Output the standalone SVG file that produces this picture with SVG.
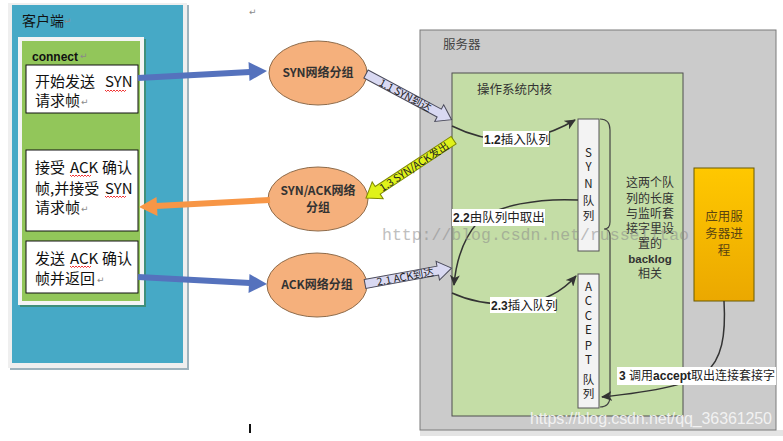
<svg xmlns="http://www.w3.org/2000/svg" width="783" height="441" viewBox="0 0 783 441">
<defs>
<style>
.cjk{font-family:"Noto Sans CJK SC","Liberation Sans",sans-serif}
.ctext{font-size:15px;fill:#111}
.mark{font-family:"DejaVu Sans",sans-serif;font-size:9px;fill:#8a8a8a}
.oval{fill:#F5B07C;stroke:#8E6B4A;stroke-width:1}
.otext{font-size:12px;font-weight:bold;fill:#333;text-anchor:middle}
.thin{fill:none;stroke:#333;stroke-width:1.5}
.lbl{font-size:12.5px;fill:#222}
.bold{font-family:"Liberation Sans",sans-serif;font-weight:bold}
.bg{fill:#fff}
.queue{fill:#F3F3F3;stroke:#555;stroke-width:1}
.qtext{font-size:11.5px;fill:#222;text-anchor:middle}
.fat{fill:#D9D9F2;stroke:#4a4a5a;stroke-width:1}
.fatY{fill:#DFF21A;stroke:#7F8A00;stroke-width:1}
.fatText{font-size:10.5px;fill:#222}
.wave{fill:none;stroke:#e00;stroke-width:0.8}
</style>
<marker id="ah" markerUnits="userSpaceOnUse" markerWidth="12" markerHeight="10" refX="10" refY="5" orient="auto"><path d="M0,0 L11,5 L0,10 L3,5 Z" fill="#333"/></marker>
<path id="zig" d="M0,0 l1.5,1.5 l1.5,-1.5 l1.5,1.5 l1.5,-1.5 l1.5,1.5 l1.5,-1.5 l1.5,1.5 l1.5,-1.5 l1.5,1.5 l1.5,-1.5 l1.5,1.5 l1.5,-1.5 l1.5,1.5 l1.5,-1.5"/>
<linearGradient id="gold" x1="0" y1="0" x2="0" y2="1"><stop offset="0" stop-color="#FFC800"/><stop offset="1" stop-color="#EBA800"/></linearGradient>
</defs>
<rect width="783" height="441" fill="#fff"/>

<!-- client -->
<g id="client">
<rect x="10" y="5" width="179" height="365" fill="#9fb3bd"/>
<rect x="8" y="3" width="179" height="365" fill="#EFEFEF"/>
<rect x="12" y="5" width="171" height="358" fill="#46A9C6"/>
<text class="cjk" x="22" y="26" font-size="14" fill="#111">客户端</text>
<text class="mark" x="64" y="24">↵</text>
<rect x="20" y="39" width="126" height="268" fill="#3f8f7a"/>
<rect x="18" y="37" width="126" height="268" fill="#F4F4F4"/>
<rect x="22" y="41" width="118" height="260" fill="#92C65A"/>
<text class="bold" x="32" y="61" font-size="12" fill="#111">connect</text>
<text class="mark" x="80" y="59">↵</text>
</g>
<g id="box1">
<rect x="26" y="65" width="112" height="48" fill="#fff" stroke="#111" stroke-width="1"/>
<text class="cjk ctext" x="35" y="87">开始发送<tspan x="105">SYN</tspan></text>
<text class="cjk ctext" x="35" y="106">请求帧</text>
<text class="mark" x="81" y="105">↵</text>
<use href="#zig" class="wave" transform="translate(105,90)"/>
</g>
<g id="box2">
<rect x="26" y="150" width="112" height="81" fill="#fff" stroke="#111" stroke-width="1"/>
<text class="cjk ctext" x="35" y="173">接受<tspan x="70">ACK</tspan><tspan x="102">确认</tspan></text>
<text class="cjk ctext" x="35" y="194">帧,并接受<tspan x="105">SYN</tspan></text>
<text class="cjk ctext" x="35" y="213">请求帧</text>
<text class="mark" x="81" y="212">↵</text>
<use href="#zig" class="wave" transform="translate(70,175)"/>
<use href="#zig" class="wave" transform="translate(105,196)"/>
</g>
<g id="box3">
<rect x="26" y="241" width="112" height="52" fill="#fff" stroke="#111" stroke-width="1"/>
<text class="cjk ctext" x="35" y="264">发送<tspan x="70">ACK</tspan><tspan x="102">确认</tspan></text>
<text class="cjk ctext" x="35" y="284">帧并返回</text>
<text class="mark" x="97" y="283">↵</text>
<use href="#zig" class="wave" transform="translate(70,266)"/>
</g>
<text class="mark" x="249" y="15">↵</text>
<rect x="249" y="424" width="2" height="9" fill="#111"/>

<!-- server -->
<g id="server">
<rect x="420" y="430" width="363" height="6" fill="#E4E4E4"/>
<rect x="420" y="30" width="356" height="400" fill="#CBCBCB" stroke="#7a7a7a"/>
<text class="cjk" x="443" y="49" font-size="12.5" fill="#444">服务器</text>
</g>
<g id="kernel">
<rect x="452" y="73" width="231" height="343" fill="#C4DDA6" stroke="#4f4f4f"/>
<text class="cjk" x="477" y="94" font-size="12.5" fill="#333">操作系统内核</text>
</g>
<g id="synq">
<rect class="queue" x="578" y="119" width="21" height="132"/>
<g class="cjk qtext"><text x="588.5" y="157">S</text><text x="588.5" y="171">Y</text><text x="588.5" y="188">N</text><text x="588.5" y="205">队</text><text x="588.5" y="220">列</text></g>
</g>
<g id="acceptq">
<rect class="queue" x="578" y="274" width="21" height="134"/>
<g class="cjk qtext"><text x="588.5" y="291">A</text><text x="588.5" y="305">C</text><text x="588.5" y="320">C</text><text x="588.5" y="334">E</text><text x="588.5" y="350">P</text><text x="588.5" y="364">T</text><text x="588.5" y="384">队</text><text x="588.5" y="398">列</text></g>
</g>
<g id="note">
<path d="M600,119 Q610,119 610,130 L610,222 Q610,229 604,229 Q610,229 610,236 L610,396 Q610,407 600,407" fill="none" stroke="#444" stroke-width="1.2"/>
<g class="cjk" font-size="12" fill="#333" text-anchor="middle">
<text x="650" y="187">这两个队</text>
<text x="650" y="203">列的长度</text>
<text x="650" y="218">与监听套</text>
<text x="650" y="233">接字里设</text>
<text x="650" y="248">置的</text>
<text x="650" y="263" class="bold" font-size="11.5">backlog</text>
<text x="650" y="278">相关</text>
</g>
</g>
<g id="app">
<rect x="694" y="168" width="60" height="133" fill="url(#gold)" stroke="#6b5a00"/>
<g class="cjk" font-size="12.5" fill="#5a4510" text-anchor="middle">
<text x="724" y="221">应用服</text><text x="724" y="238">务器进</text><text x="724" y="255">程</text>
</g>
</g>

<!-- ovals -->
<g id="oval1"><ellipse class="oval" cx="318" cy="73" rx="49" ry="32"/><text class="cjk otext" x="318" y="77">SYN网络分组</text></g>
<g id="oval2"><ellipse class="oval" cx="318" cy="199" rx="50" ry="32"/><text class="cjk otext" x="318" y="195">SYN/ACK网络</text><text class="cjk otext" x="318" y="212">分组</text></g>
<g id="oval3"><ellipse class="oval" cx="317" cy="285" rx="50" ry="32"/><text class="cjk otext" x="317" y="289">ACK网络分组</text></g>

<!-- connectors -->
<g id="connectors">
<line x1="138" y1="78" x2="250" y2="72" stroke="#5572BD" stroke-width="6"/>
<polygon points="267,71 249.5,81 248.5,62" fill="#5572BD"/>
<line x1="270" y1="200" x2="156" y2="206" stroke="#F79646" stroke-width="6"/>
<polygon points="139,207 157.5,216 156.5,197" fill="#F79646"/>
<line x1="138" y1="277" x2="250" y2="283" stroke="#5572BD" stroke-width="6"/>
<polygon points="267,284 248.5,293 249.5,274" fill="#5572BD"/>

<g transform="translate(366,74) rotate(28.1)"><path class="fat" d="M0,-4.5 H83 V-9.5 L97,0 L83,9.5 V4.5 H0 Z"/><text class="cjk fatText" x="16" y="4">1.1 SYN到达</text></g>
<g transform="translate(366,198) rotate(-33.4)"><path class="fatY" d="M0,0 L14,-10 V-4.5 H105 V4.5 H14 V10 Z"/><text class="cjk fatText" x="17" y="4">1.3 SYN/ACK发出</text></g>
<g transform="translate(365,284) rotate(-10.4)"><path class="fat" d="M0,-4.5 H74 V-9.5 L88,0 L74,9.5 V4.5 H0 Z"/><text class="cjk fatText" x="12" y="4">2.1 ACK到达</text></g>

<path class="thin" d="M452,126 Q490,145 530,138 Q555,132 575,120" marker-end="url(#ah)"/>
<path class="thin" d="M578,200 C540,198 495,205 478,222 C462,240 456,262 454,285" marker-end="url(#ah)"/>
<path class="thin" d="M452,293 Q480,306 520,304 Q555,300 576,276" marker-end="url(#ah)"/>
<path class="thin" d="M724,301 C726,335 722,360 705,373 C690,385 650,392 602,397" marker-end="url(#ah)"/>

<rect class="bg" x="483" y="131" width="66" height="16"/>
<text class="cjk lbl" x="484" y="144"><tspan class="bold" font-size="12">1.2</tspan>插入队列</text>
<rect class="bg" x="452" y="209" width="93" height="17"/>
<text class="cjk lbl" x="453" y="222"><tspan class="bold" font-size="12">2.2</tspan>由队列中取出</text>
<rect class="bg" x="490" y="297" width="66" height="16"/>
<text class="cjk lbl" x="491" y="310"><tspan class="bold" font-size="12">2.3</tspan>插入队列</text>
<rect class="bg" x="617" y="367" width="159" height="18"/>
<text class="cjk" x="619" y="380" font-size="12" fill="#222"><tspan class="bold">3 </tspan>调用<tspan class="bold">accept</tspan>取出连接套接字</text>
</g>

<!-- watermarks -->
<text x="382" y="240" font-family="Liberation Mono, monospace" font-size="16.5" fill="#8c8c8c" opacity="0.55">http://blog.csdn.net/russelltao</text>
<text x="530" y="424" font-family="Liberation Sans, sans-serif" font-size="16" textLength="242" fill="#F4F4F4" opacity="0.95">https://blog.csdn.net/qq_36361250</text>
</svg>
